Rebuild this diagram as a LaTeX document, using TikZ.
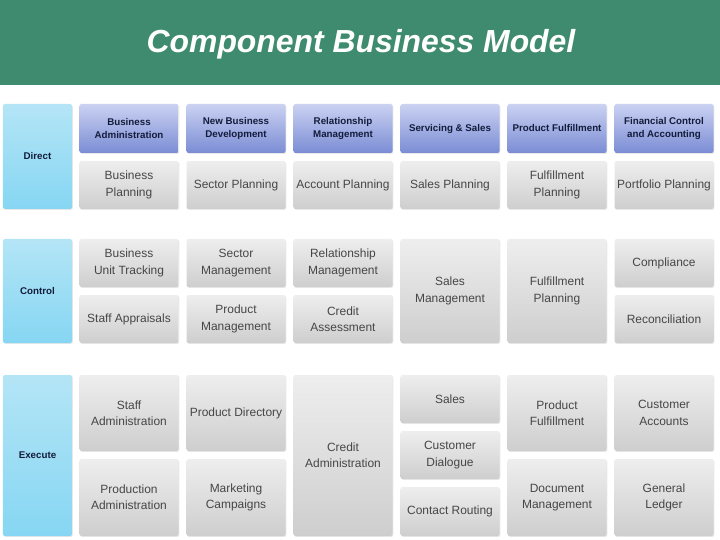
\documentclass[tikz,border=0pt]{standalone}
\usepackage{fontspec}
\setmainfont{Liberation Sans}
\usetikzlibrary{shadows}
\definecolor{bandaVerde}{RGB}{63,139,112}
\definecolor{grisArriba}{RGB}{238,238,238}
\definecolor{grisAbajo}{RGB}{206,206,206}
\definecolor{azulArriba}{RGB}{203,210,242}
\definecolor{azulAbajo}{RGB}{122,140,212}
\definecolor{cianArriba}{RGB}{180,229,246}
\definecolor{cianMedio}{RGB}{92,196,236}
\definecolor{cianAbajo}{RGB}{134,214,243}
\definecolor{textoGris}{RGB}{70,70,70}
\definecolor{textoAzul}{RGB}{20,28,60}

\begin{document}
\begin{tikzpicture}[
    x=1bp, y=-1bp,
    caja/.style={rounded corners=2bp, inner sep=0pt, align=center,
        top color=grisArriba, bottom color=grisAbajo, text=textoGris,
        font=\fontsize{12}{16.5}\selectfont,
        minimum width=99bp, minimum height=48bp,
        drop shadow={opacity=0.18, shadow xshift=0.8bp, shadow yshift=-0.9bp}},
    cabeza/.style={caja, top color=azulArriba, bottom color=azulAbajo,
        text=textoAzul, font=\bfseries\fontsize{9.8}{13.5}\selectfont, minimum height=49bp},
    nivel/.style={caja, minimum width=69bp, top color=cianArriba,
        middle color=cianMedio, bottom color=cianAbajo,
        text=textoAzul, font=\bfseries\fontsize{9.8}{12}\selectfont}
]
    \useasboundingbox (0,0) rectangle (720,540);

    % --- TITLE BAND ---
    \fill[bandaVerde] (0,0) rectangle (720,85);
    \node[text=white, font=\bfseries\itshape\fontsize{32}{36}\selectfont] (titulo) at (361,44) {Component Business Model};

    % --- LEVEL LABELS ---
    \node[nivel, minimum height=105bp] (direct)  at (37.5,156.5) {Direct};
    \node[nivel, minimum height=104bp] (control) at (37.5,291)   {Control};
    \node[nivel, minimum height=161bp] (execute) at (37.5,455.5) {Execute};

    % --- COMPETENCY HEADERS ---
    \node[cabeza] (bizAdmin)   at (129,128.5) {Business\\Administration};
    \node[cabeza] (newBiz)     at (236,128.5) {New Business\\Development};
    \node[cabeza] (relMgmt)    at (343,128.5) {Relationship\\Management};
    \node[cabeza] (servSales)  at (450,128.5) {Servicing \& Sales};
    \node[cabeza] (prodFulf)   at (557,128.5) {Product Fulfillment};
    \node[cabeza] (finControl) at (664,128.5) {Financial Control\\and Accounting};

    % --- DIRECT ROW ---
    \node[caja] (bizPlan)    at (129,185) {Business\\Planning};
    \node[caja] (sectorPlan) at (236,185) {Sector Planning};
    \node[caja] (acctPlan)   at (343,185) {Account Planning};
    \node[caja] (salesPlan)  at (450,185) {Sales Planning};
    \node[caja] (fulfPlan)   at (557,185) {Fulfillment\\Planning};
    \node[caja] (portPlan)   at (664,185) {Portfolio Planning};

    % --- CONTROL ROW ---
    \node[caja] (unitTrack)  at (129,263) {Business\\Unit Tracking};
    \node[caja] (staffAppr)  at (129,319) {Staff Appraisals};
    \node[caja] (sectorMgmt) at (236,263) {Sector\\Management};
    \node[caja] (prodMgmt)   at (236,319) {Product\\Management};
    \node[caja] (relMgmt2)   at (343,263) {Relationship\\Management};
    \node[caja] (creditAss)  at (343,319) {Credit\\Assessment};
    \node[caja, minimum height=104bp] (salesMgmt) at (450,291) {Sales\\Management};
    \node[caja, minimum height=104bp] (fulfPlan2) at (557,291) {Fulfillment\\Planning};
    \node[caja] (compliance) at (664,263) {Compliance};
    \node[caja] (reconcil)   at (664,319) {Reconciliation};

    % --- EXECUTE ROW ---
    \node[caja, minimum height=76bp] (staffAdmin) at (129,413)   {Staff\\Administration};
    \node[caja, minimum height=77bp] (prodAdmin)  at (129,497.5) {Production\\Administration};
    \node[caja, minimum height=76bp] (prodDir)    at (236,413)   {Product Directory};
    \node[caja, minimum height=77bp] (mktCamp)    at (236,497.5) {Marketing\\Campaigns};
    \node[caja, minimum height=161bp] (creditAdm) at (343,455.5) {Credit\\Administration};
    \node[caja] (sales)      at (450,399)   {Sales};
    \node[caja] (custDial)   at (450,455)   {Customer\\Dialogue};
    \node[caja, minimum height=49bp] (contRout) at (450,511.5) {Contact Routing};
    \node[caja, minimum height=76bp] (prodFulf2)  at (557,413)   {Product\\Fulfillment};
    \node[caja, minimum height=77bp] (docMgmt)    at (557,497.5) {Document\\Management};
    \node[caja, minimum height=76bp] (custAcct)   at (664,413)   {Customer\\Accounts};
    \node[caja, minimum height=77bp] (genLedger)  at (664,497.5) {General\\Ledger};

\end{tikzpicture}
\end{document}
